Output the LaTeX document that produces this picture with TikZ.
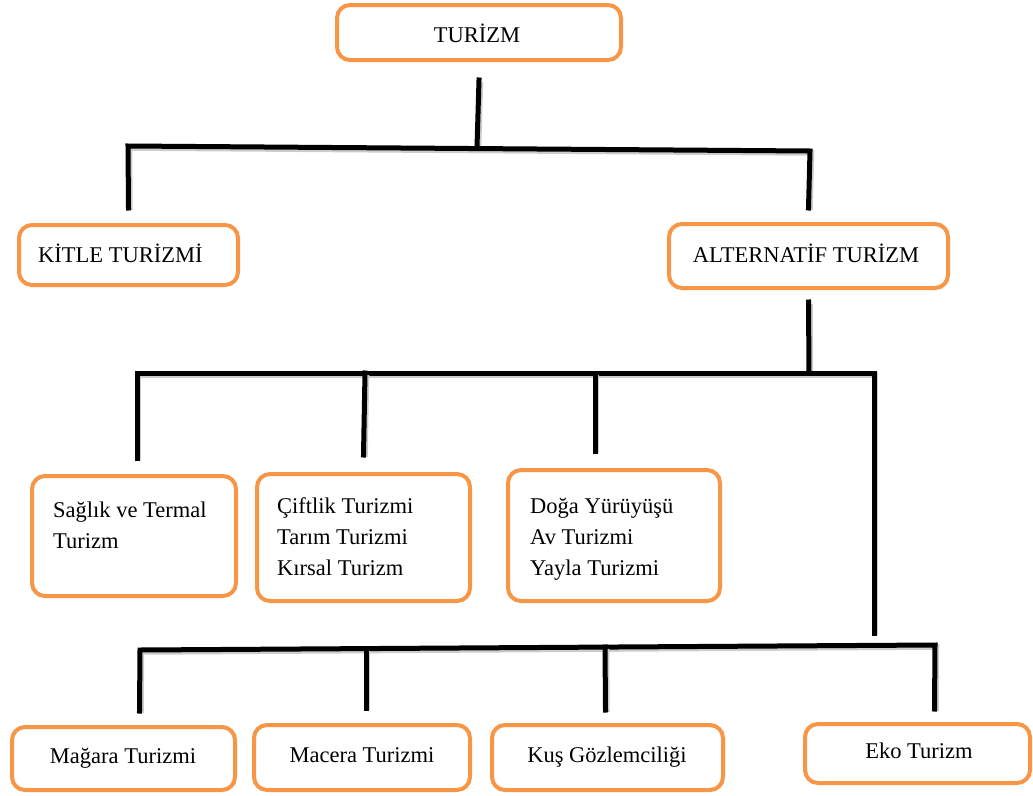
\documentclass[tikz,border=0pt]{standalone}
\usepackage{fontspec}
\setmainfont{Liberation Serif}
\definecolor{boxorange}{HTML}{F79646}
\tikzset{
  box/.style={draw=boxorange, line width=4pt, rounded corners=13pt, fill=white},
  lbl/.style={font=\fontsize{22.5}{31}\selectfont, inner sep=0pt, align=left, text=black},
  link/.style={line width=5pt, black, line cap=rect,
    preaction={draw=black!20, line width=5.5pt, transform canvas={xshift=1.5pt,yshift=-2pt}}},
}
\begin{document}
\begin{tikzpicture}[x=1pt,y=-1pt]
\useasboundingbox (0,0) rectangle (1033,795);

% boxes
\node[box, minimum width=284pt, minimum height=55pt] (tur) at (479,32.5) {};
\node[box, minimum width=219pt, minimum height=60pt] (kit) at (128.5,255) {};
\node[box, minimum width=279pt, minimum height=64pt] (alt) at (808.5,256) {};
\node[box, minimum width=204pt, minimum height=120pt] (sag) at (134,536) {};
\node[box, minimum width=213pt, minimum height=127pt] (cif) at (363.5,537.5) {};
\node[box, minimum width=212pt, minimum height=131pt] (dog) at (614,535.5) {};
\node[box, minimum width=223pt, minimum height=63pt] (mag) at (123.5,758.5) {};
\node[box, minimum width=216pt, minimum height=65pt] (mac) at (362,757.5) {};
\node[box, minimum width=231pt, minimum height=65pt] (kus) at (607.5,757.5) {};
\node[box, minimum width=225pt, minimum height=59pt] (eko) at (917.5,753.5) {};

% labels (multi-line labels are placed by the baseline of their last line)
\node[lbl, anchor=base] (turT) at (477,42) {TURİZM};
\node[lbl, anchor=base west] (kitT) at (38,262) {KİTLE TURİZMİ};
\node[lbl, anchor=base] (altT) at (806,262) {ALTERNATİF TURİZM};
\node[lbl, anchor=base west] (sagT) at (53,548) {Sağlık ve Termal\\Turizm};
\node[lbl, anchor=base west] (cifT) at (277,575) {Çiftlik Turizmi\\Tarım Turizmi\\Kırsal Turizm};
\node[lbl, anchor=base west] (dogT) at (530,575) {Doğa Yürüyüşü\\Av Turizmi\\Yayla Turizmi};
\node[lbl, anchor=base] (magT) at (123,763) {Mağara Turizmi};
\node[lbl, anchor=base] (macT) at (362,762) {Macera Turizmi};
\node[lbl, anchor=base] (kusT) at (607,762) {Kuş Gözlemciliği};
\node[lbl, anchor=base] (ekoT) at (919,758) {Eko Turizm};

% junction points
\coordinate (j1) at (477,147);
\coordinate (j1l) at (128,146);
\coordinate (j1r) at (810,151);
\coordinate (j2) at (809,373);
\coordinate (j2l) at (137,373);
\coordinate (j2a) at (365,373);
\coordinate (j2b) at (595,373);
\coordinate (j2r) at (874,373);
\coordinate (j3l) at (140,650);
\coordinate (j3a) at (366,649);
\coordinate (j3b) at (605,647);
\coordinate (j3r) at (935,645);

% connectors
\draw[link] ([yshift=-18pt]tur.south) -- (j1);
\draw[link] ([yshift=15pt]kit.north) -- (j1l) -- (j1r) -- ([yshift=14pt]alt.north);
\draw[link] ([yshift=-12pt]alt.south) -- (j2);
\draw[link] ([xshift=3pt,yshift=16pt]sag.north) -- (j2l) -- (j2r) -- +(0,260);
\draw[link] ([yshift=17pt]cif.north) -- (j2a);
\draw[link] ([xshift=-19pt,yshift=17pt]dog.north) -- (j2b);
\draw[link] ([xshift=16pt,yshift=14pt]mag.north) -- (j3l) -- (j3r) -- ([xshift=17pt,yshift=13pt]eko.north);
\draw[link] ([xshift=4pt,yshift=15pt]mac.north) -- (j3a);
\draw[link] ([xshift=-2pt,yshift=13pt]kus.north) -- (j3b);
\end{tikzpicture}
\end{document}
